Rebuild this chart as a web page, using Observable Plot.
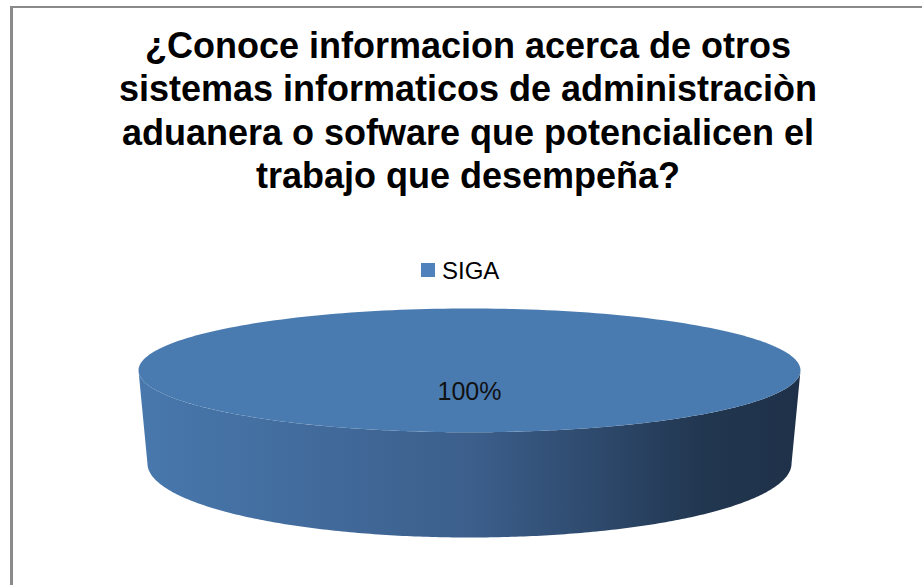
<!DOCTYPE html>
<html>
<head>
<meta charset="utf-8">
<script src="https://cdn.jsdelivr.net/npm/d3@7"></script>
<script src="https://cdn.jsdelivr.net/npm/@observablehq/plot@0.6"></script>
<style>
  html, body { margin: 0; padding: 0; background: #fff; overflow: hidden; }
  #chart { position: relative; width: 922px; height: 585px; font-family: "Liberation Sans", Arial, sans-serif; }
  #frame { position: absolute; left: 10px; top: 6px; width: 1000px; height: 700px;
           border-left: 3px solid #8a8a8a; border-top: 2px solid #8a8a8a; box-sizing: border-box; }
  #title { position: absolute; left: 14px; width: 908px; top: 24px; text-align: center;
           font-weight: bold; font-size: 36px; line-height: 43.3px; color: #000; }
  #legend { position: absolute; left: 421px; top: 259px; font-size: 24px; line-height: 24px; color: #000; white-space: nowrap; }
  #legend .sw { position: absolute; left: 0; top: 4px; width: 14px; height: 14px; }
  #legend .lb { position: absolute; left: 21px; top: 0; }
  #pie { position: absolute; left: 0; top: 290px; }
</style>
</head>
<body>
<div id="chart">
  <div id="frame"></div>
  <div id="title"></div>
  <div id="legend"></div>
  <div id="pie"></div>
</div>
<script>
// ---- data ----
const titleLines = [
  "¿Conoce informacion acerca de otros",
  "sistemas informaticos de administraciòn",
  "aduanera o sofware que potencialicen el",
  "trabajo que desempeña?"
];
const categories = ["SIGA"];
const values = [100];
const legendColors = ["#4f81bd"];
const topColors = ["#4a7bb0"];

// ---- 3D pie geometry (unit radius) ----
const TILT = 0.187;       // vertical squash of the top face
const DEPTH = 0.281;      // thickness of the pie
const BOTTOM_RX = 0.973;  // perspective: bottom rim narrower
const BOTTOM_RY = 0.224;
const LABEL_R = 0.35;

document.getElementById("title").innerHTML = titleLines.join("<br>");
const legend = document.getElementById("legend");
categories.forEach((c, i) => {
  legend.innerHTML += `<span class="sw" style="background:${legendColors[i]}"></span><span class="lb">${c}</span>`;
});

const total = d3.sum(values);
const arcs = d3.pie().sort(null)(values).map((p, i) => ({...p, name: categories[i]}));

function rim(a0, a1, rx, ry, cy, n = 240) {
  const pts = [];
  for (let k = 0; k <= n; k++) {
    const a = a0 + (a1 - a0) * k / n;
    pts.push({x: rx * Math.sin(a), y: cy - ry * Math.cos(a)});
  }
  return pts;
}

const sides = [], tops = [], labels = [];
arcs.forEach((p, i) => {
  // visible front part of the side: angles in [PI/2, 3PI/2]
  const s0 = Math.max(p.startAngle, Math.PI / 2), s1 = Math.min(p.endAngle, 3 * Math.PI / 2);
  if (s1 > s0) {
    const up = rim(s0, s1, 1, TILT, 0);
    const down = rim(s1, s0, BOTTOM_RX, BOTTOM_RY, DEPTH);
    [...up, ...down].forEach(d => sides.push({...d, k: i}));
  }
  const full = p.endAngle - p.startAngle >= 2 * Math.PI - 1e-9;
  const t = rim(p.startAngle, p.endAngle, 1, TILT, 0);
  (full ? t : [{x: 0, y: 0}, ...t, {x: 0, y: 0}]).forEach(d => tops.push({...d, k: i, color: topColors[i]}));
  const mid = (p.startAngle + p.endAngle) / 2;
  labels.push({x: LABEL_R * Math.sin(mid), y: -LABEL_R * TILT * Math.cos(mid),
               text: d3.format(".0%")(p.value / total)});
});

const defs = () => {
  const d = d3.create("svg:defs");
  const g = d.append("linearGradient").attr("id", "sideGrad")
    .attr("x1", 0).attr("x2", 1).attr("y1", 0).attr("y2", 0);
  [[0, "#4878ad"], [0.5, "#3c5f8c"], [0.73, "#2b4566"], [0.86, "#21364f"], [1, "#1f3149"]]
    .forEach(([o, c]) => g.append("stop").attr("offset", o).attr("stop-color", c));
  return d.node();
};

const plot = Plot.plot({
  width: 922,
  height: 270,
  margin: 0,
  x: {domain: [-1, 1], range: [138, 800], axis: null},
  y: {domain: [-TILT, DEPTH + BOTTOM_RY], range: [18, 247], axis: null},
  style: {background: "transparent", overflow: "visible"},
  marks: [
    defs,
    Plot.line(sides, {x: "x", y: "y", z: "k", fill: "url(#sideGrad)", stroke: "none", curve: "linear"}),
    Plot.line(tops, {x: "x", y: "y", z: "k", fill: "color", stroke: "none", curve: "linear"}),
    Plot.text(labels, {x: "x", y: "y", text: "text", fontSize: 25, fill: "#111",
                       fontFamily: "Liberation Sans, Arial, sans-serif"})
  ]
});
document.getElementById("pie").appendChild(plot);
</script>
</body>
</html>
